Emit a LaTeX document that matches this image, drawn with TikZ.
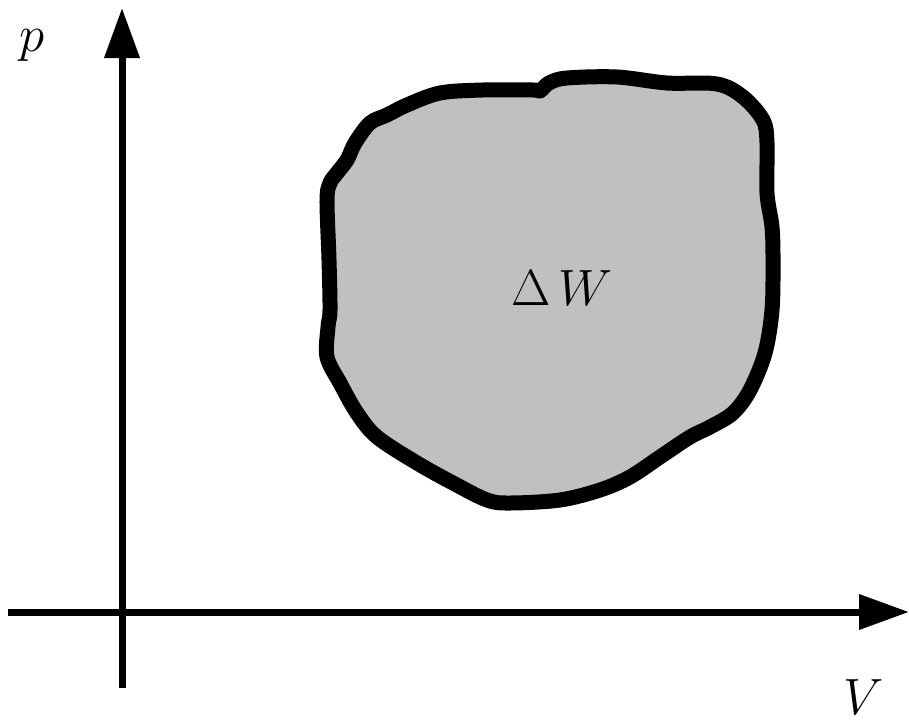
\RequirePackage{fix-cm}
\documentclass[tikz,border=0pt]{standalone}
\usetikzlibrary{arrows.meta}
\definecolor{blobgray}{RGB}{192,192,192}
\begin{document}
\begin{tikzpicture}[x=1pt,y=-1pt,
  axis/.style={line width=7pt,-{Triangle[length=50pt,width=34pt]}},
  lbl/.style={inner sep=0pt,font=\fontsize{51}{61}\selectfont},
  blob/.style={line width=15pt,fill=blobgray,draw=black,line join=round}]
\useasboundingbox (0,0) rectangle (909,726);
\coordinate (ybot) at (122,688);
\coordinate (ytop) at (122,8);
\coordinate (xl) at (8,612);
\coordinate (xr) at (909,612);
\draw[axis] (ybot) -- (ytop);
\draw[axis] (xl) -- (xr);
\draw[blob] plot[smooth cycle,tension=0.55] coordinates {
 (540,91) (549,83) (567,78) (617,77) (667,83) (717,84) (743,97) (763,120) (767,143)
 (767,193) (772,227) (773,260) (772,310) (765,353) (750,390) (733,413) (710,427)
 (690,437) (660,457) (630,477) (600,490) (560,500) (510,503) (487,500) (453,483)
 (417,463) (377,437) (357,413) (340,383) (327,357) (328,327) (330,310) (329,260)
 (327,200) (330,183) (337,173) (347,160) (355,143) (370,123) (387,115) (407,105)
 (440,93) (483,90) (533,90)};
\node[lbl] (dw) at (562,288) {$\Delta\,W$};
\node[lbl] (p) at (32,45) {$p$};
\node[lbl] (v) at (864,697) {$V$};
\end{tikzpicture}
\end{document}
